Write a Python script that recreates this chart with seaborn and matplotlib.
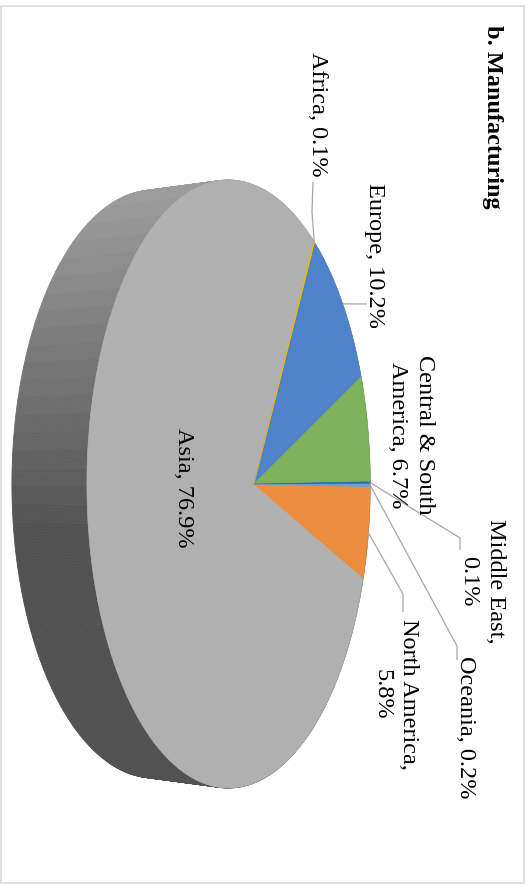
import numpy as np
import matplotlib
matplotlib.use("Agg")
import matplotlib.pyplot as plt
from matplotlib.patches import Polygon, Rectangle
import seaborn as sns

# ---- data -------------------------------------------------------------
regions = ["Africa", "Europe", "Central & South America", "Middle East",
           "Oceania", "North America", "Asia"]
shares = [0.1, 10.2, 6.7, 0.1, 0.2, 5.8, 76.9]
title = "b. Manufacturing"

# ---- style ------------------------------------------------------------
sns.set_theme(style="white")
plt.rcParams["font.family"] = ["Liberation Serif", "DejaVu Serif"]
slice_colors = sns.color_palette(["#f2b705", "#4f83c9", "#7eb25a", "#2f6eb0",
                                  "#6aa3dc", "#ec8e3d", "#b0b0b0"])

# label layout: centre of the rotated text, line break, leader path
layout = {
    "Africa":                  dict(xy=(318, 114), wrap=None, leader=[(312, 212), (313, 182)]),
    "Europe":                  dict(xy=(374, 255), wrap=None, leader=[(367, 304)]),
    "Central & South America": dict(xy=(411, 435), wrap="South ", leader=None),
    "Middle East":             dict(xy=(482, 581), wrap=", ", leader=[(460, 538), (460, 550)]),
    "Oceania":                 dict(xy=(465, 727), wrap=None, leader=[(457, 646), (457, 660)]),
    "North America":           dict(xy=(395, 694), wrap=", ", leader=[(403, 594), (403, 612)]),
    "Asia":                    dict(xy=(183, 488), wrap=None, leader=None),
}

# ---- 3-D pie geometry (pixel space, drawn turned a quarter clockwise) --
CX, CY = 254, 484          # pie centre on the top face
A, B, K = 137, 299, 0.18   # depth axis, lateral axis, perspective strength
DEPTH = 75                 # thickness of the disc
BOTTOM_SCALE = 0.967
START = -61.7              # angle where the first slice begins


def rim(phi_deg, bottom=False):
    t = np.radians(np.asarray(phi_deg, dtype=float))
    p, q = np.cos(t), np.sin(t)
    s = 1.0 / (1.0 + K * p)
    x = CX + A * p * s
    y = CY + B * q * s
    if bottom:
        x = x - DEPTH
        y = CY + (y - CY) * BOTTOM_SCALE
    return x, y


fig = plt.figure(figsize=(5.31, 8.88), dpi=100)
ax = fig.add_axes([0, 0, 1, 1])
ax.set_xlim(0, 531)
ax.set_ylim(888, 0)
ax.axis("off")

# chart frame
ax.add_patch(Rectangle((1, 6), 523, 877, fill=False, edgecolor="#d9d9d9", lw=1.2))

# slice angles from the shares
spans = np.array(shares) / np.sum(shares) * 360.0
ends = START + np.cumsum(spans)
starts = ends - spans

# side wall of the disc, far pieces first
phis = np.linspace(START, START + 360, 721)
quads = []
for a0, a1 in zip(phis[:-1], phis[1:]):
    x0, y0 = rim(a0)
    x1, y1 = rim(a1)
    bx0, by0 = rim(a0, bottom=True)
    bx1, by1 = rim(a1, bottom=True)
    mid = np.radians((a0 + a1) / 2)
    quads.append((np.cos(mid), [(x0, y0), (x1, y1), (bx1, by1), (bx0, by0)], (y0 + y1) / 2))
quads.sort(key=lambda t: -t[0])
for _, pts, ym in quads:
    band = np.floor(ym / 18.0) * 18.0
    g = np.interp(band, [185, 525], [0.61, 0.32])
    ax.add_patch(Polygon(pts, closed=True, facecolor=(g, g, g), edgecolor=(g, g, g), lw=0.6))

# top face slices: largest first so slim slices stay visible
order = np.argsort(-spans)
for i in order:
    a = np.linspace(starts[i], ends[i], max(int(spans[i] * 4), 2) + 1)
    xs, ys = rim(a)
    pts = [(CX, CY)] + list(zip(xs, ys))
    ax.add_patch(Polygon(pts, closed=True, facecolor=slice_colors[i],
                         edgecolor=slice_colors[i], lw=0.5))

# labels with leader lines
for i, name in enumerate(regions):
    cfg = layout[name]
    text = f"{name}, {shares[i]:.1f}%"
    if cfg["wrap"]:
        text = text.replace(cfg["wrap"], cfg["wrap"].rstrip() + "\n", 1)
    ax.text(cfg["xy"][0], cfg["xy"][1], text, rotation=-90, ha="center", va="center",
            multialignment="center", fontsize=17.5, color="black", linespacing=1.32)
    if cfg["leader"]:
        mx, my = rim((starts[i] + ends[i]) / 2)
        path = [(float(mx), float(my))] + cfg["leader"]
        ax.plot([p[0] for p in path], [p[1] for p in path], color="#a6a6a6", lw=0.9,
                solid_capstyle="butt")

ax.text(492, 117, title, rotation=-90, ha="center", va="center",
        fontsize=17.5, fontweight="bold", color="black")

fig.savefig("out.png", dpi=100, facecolor="white")
